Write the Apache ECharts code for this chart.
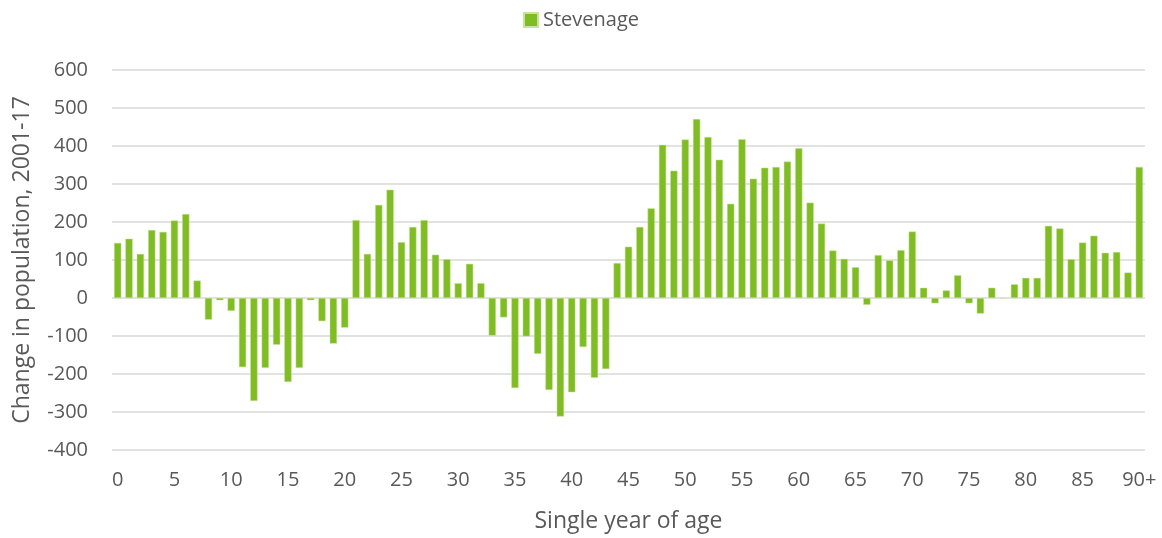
<!DOCTYPE html>
<html>
<head>
<meta charset="utf-8">
<script src="https://cdn.jsdelivr.net/npm/echarts@6/dist/echarts.min.js"></script>
<style>
  html, body { margin: 0; padding: 0; background: #fff; }
  #chart { width: 1162px; height: 538px; }
</style>
</head>
<body>
<div id="chart"></div>
<script>
// ages 0..89 plus 90+
const ages = [];
for (let i = 0; i < 90; i++) ages.push(String(i));
ages.push('90+');

const stevenage = [
  145, 156, 116, 179, 174, 204, 221, 46, -57, -6,
  -34, -182, -271, -184, -123, -221, -184, -6, -61, -120,
  -78, 205, 116, 245, 285, 147, 187, 205, 114, 102,
  39, 90, 39, -99, -51, -237, -101, -147, -242, -312,
  -248, -129, -210, -187, 92, 135, 187, 236, 403, 335,
  417, 471, 424, 364, 248, 418, 314, 343, 345, 359,
  394, 251, 196, 125, 103, 81, -18, 113, 99, 126,
  175, 27, -14, 20, 60, -14, -41, 27, -1, 36,
  53, 53, 190, 183, 102, 146, 164, 119, 121, 67,
  345
];

const GREEN = '#80bc24';
const TEXT = '#595959';
const GRID = '#d9d9d9';
const FONT = '"Open Sans", "Noto Sans", sans-serif';

const chart = echarts.init(document.getElementById('chart'));
chart.setOption({
  animation: false,
  textStyle: { fontFamily: FONT },
  legend: {
    top: 5,
    left: 'center',
    itemWidth: 14,
    itemHeight: 14,
    itemGap: 6,
    icon: 'rect',
    textStyle: { color: TEXT, fontSize: 20, fontFamily: FONT },
    data: ['Stevenage']
  },
  grid: { left: 112, right: 17, top: 70, bottom: 88, containLabel: false, outerBoundsMode: 'none' },
  xAxis: {
    type: 'category',
    data: ages,
    name: 'Single year of age',
    nameLocation: 'middle',
    nameGap: 60,
    nameTextStyle: { color: TEXT, fontSize: 23, fontFamily: FONT },
    axisLine: { show: false },
    axisTick: { show: false },
    axisLabel: { interval: 4, color: TEXT, fontSize: 20, margin: 20, fontFamily: FONT },
    splitLine: { show: false }
  },
  yAxis: {
    type: 'value',
    min: -400,
    max: 600,
    interval: 100,
    name: 'Change in population, 2001-17',
    nameLocation: 'middle',
    nameGap: 78,
    nameTextStyle: { color: TEXT, fontSize: 23, fontFamily: FONT },
    axisLine: { show: false },
    axisTick: { show: false },
    axisLabel: { color: TEXT, fontSize: 20, margin: 24, fontFamily: FONT },
    splitLine: { lineStyle: { color: GRID, width: 1.5 } }
  },
  series: [{
    name: 'Stevenage',
    type: 'bar',
    data: stevenage,
    barWidth: '64%',
    itemStyle: { color: GREEN, borderColor: '#c8e49c', borderWidth: 0.5 }
  }]
});
</script>
</body>
</html>
